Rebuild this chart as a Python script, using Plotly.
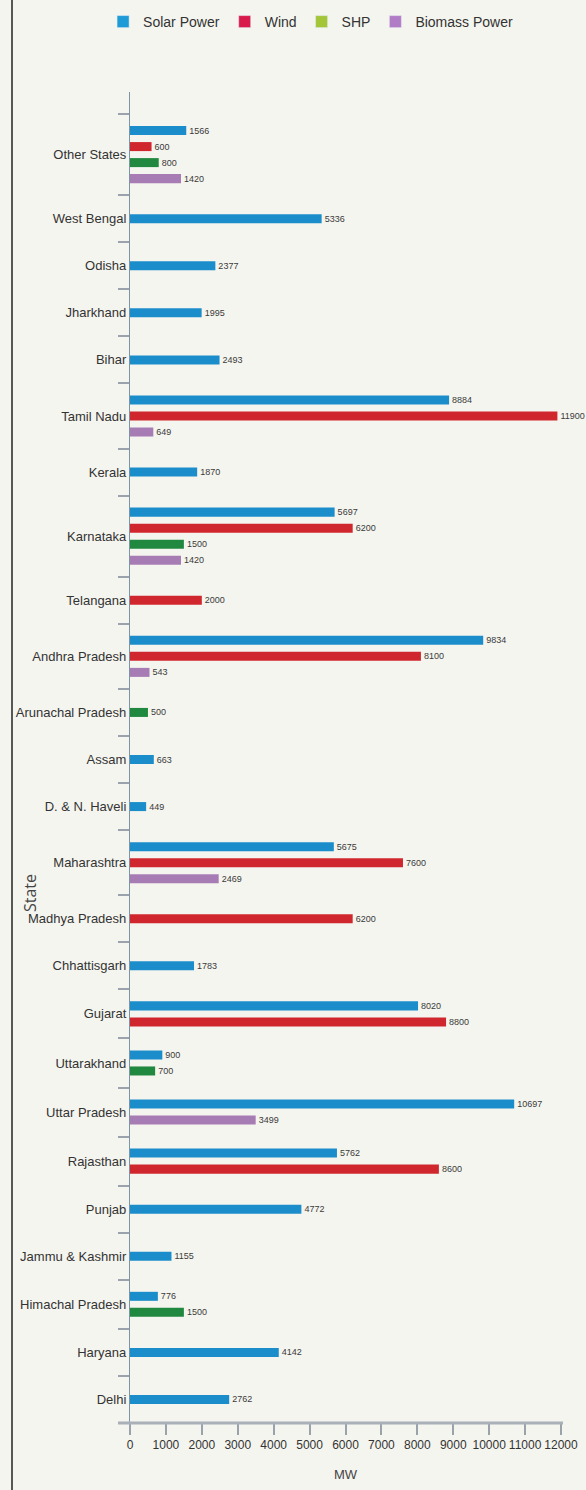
import numpy as np
import plotly.graph_objects as go

# Installed renewable capacity target by state (MW); None = no capacity in that category
states = [
    "Other States", "West Bengal", "Odisha", "Jharkhand", "Bihar", "Tamil Nadu",
    "Kerala", "Karnataka", "Telangana", "Andhra Pradesh", "Arunachal Pradesh",
    "Assam", "D. & N. Haveli", "Maharashtra", "Madhya Pradesh", "Chhattisgarh",
    "Gujarat", "Uttarakhand", "Uttar Pradesh", "Rajasthan", "Punjab",
    "Jammu & Kashmir", "Himachal Pradesh", "Haryana", "Delhi",
]
solar = [1566, 5336, 2377, 1995, 2493, 8884, 1870, 5697, None, 9834, None, 663, 449,
         5675, None, 1783, 8020, 900, 10697, 5762, 4772, 1155, 776, 4142, 2762]
wind = [600, None, None, None, None, 11900, None, 6200, 2000, 8100, None, None, None,
        7600, 6200, None, 8800, None, None, 8600, None, None, None, None, None]
shp = [800, None, None, None, None, None, None, 1500, None, None, 500, None, None,
       None, None, None, None, 700, None, None, None, None, 1500, None, None]
biomass = [1420, None, None, None, None, 649, None, 1420, None, 543, None, None, None,
           2469, None, None, None, None, 3499, None, None, None, None, None, None]

series_names = ["Solar Power", "Wind", "SHP", "Biomass Power"]
bar_colors = ["#1b8dcb", "#d0262e", "#21893f", "#a77cb5"]
legend_colors = ["#1e9ad6", "#d81b4a", "#a3c639", "#b07cc6"]
series = [solar, wind, shp, biomass]

FONT = "Liberation Sans, Arial, sans-serif"
BG = "#f5f5ef"

# Each state gets a band sized by how many categories it actually has,
# with the bars packed at a fixed spacing around the band centre.
SLOT = 16
PAD = 17
MIN_BAND = 47
BAR_W = 9
counts = [sum(s[i] is not None for s in series) for i in range(len(states))]
band_h = [max(MIN_BAND, SLOT * n + PAD) for n in counts]
edges = np.concatenate([[0], np.cumsum(band_h)])
centers = (edges[:-1] + edges[1:]) / 2

ypos = [[None] * len(states) for _ in series]
for i in range(len(states)):
    present = [k for k, s in enumerate(series) if s[i] is not None]
    n = len(present)
    for j, k in enumerate(present):
        ypos[k][i] = centers[i] + (j - (n - 1) / 2) * SLOT

W, H = 586, 1490
ML, MR, MT, MB = 130, 25, 92, 67
PW, PH = W - ML - MR, H - MT - MB


def px_x(p):
    return (p - ML) / PW


def px_y(p):
    return (H - MB - p) / PH


fig = go.Figure()
for k, name in enumerate(series_names):
    xs = [v for v in series[k] if v is not None]
    ys = [y for v, y in zip(series[k], ypos[k]) if v is not None]
    fig.add_trace(go.Bar(
        x=xs, y=ys, orientation="h", width=BAR_W, name=name,
        marker=dict(color=bar_colors[k], line=dict(width=0)),
        text=[str(v) for v in xs], textposition="outside",
        textfont=dict(family=FONT, size=9, color="#3a3a3a"),
        constraintext="none", cliponaxis=False, showlegend=False,
    ))
    fig.add_trace(go.Bar(
        x=[None], y=[None], orientation="h", name=name,
        marker=dict(color=legend_colors[k]), showlegend=True,
    ))

shapes = [
    # bottom axis rule, running slightly past zero on the left
    dict(type="line", xref="paper", yref="paper", x0=px_x(118), x1=px_x(563),
         y0=0, y1=0, line=dict(color="#a9b0b8", width=3)),
    # left frame line
    dict(type="line", xref="paper", yref="paper", x0=px_x(12), x1=px_x(12),
         y0=px_y(0), y1=px_y(H), line=dict(color="#222222", width=1.5)),
]

fig.update_layout(
    width=W, height=H,
    margin=dict(l=ML, r=MR, t=MT, b=MB, autoexpand=False),
    paper_bgcolor=BG, plot_bgcolor=BG,
    barmode="overlay",
    font=dict(family=FONT, color="#333333"),
    showlegend=True,
    legend=dict(
        orientation="h", xref="container", yref="container",
        x=0.53, xanchor="center", y=1 - 22 / H, yanchor="middle",
        font=dict(family=FONT, size=14, color="#333333"),
        bgcolor="rgba(0,0,0,0)", itemclick=False, traceorder="normal",
        itemwidth=30,
    ),
    xaxis=dict(
        range=[0, 12000], dtick=1000, tick0=0, tickformat="d",
        showgrid=False, zeroline=False, showline=False, automargin=False,
        ticks="outside", ticklen=11, tickwidth=1.5, tickcolor="#9aa3ab",
        tickfont=dict(family=FONT, size=12, color="#333333"),
        title=dict(text="MW", font=dict(family=FONT, size=13, color="#444444"), standoff=18),
    ),
    yaxis=dict(
        range=[edges[-1], -22], automargin=False,
        tickvals=centers.tolist(), ticktext=states, ticks="",
        tickfont=dict(family=FONT, size=13, color="#333333"),
        showgrid=False, zeroline=False,
        showline=True, linecolor="#7d93a8", linewidth=1.2,
        minor=dict(tickvals=edges.tolist(), ticks="outside", ticklen=11,
                   tickwidth=2, tickcolor="#9aa3ab", showgrid=False),
    ),
    shapes=shapes,
    annotations=[dict(
        text="State", textangle=-90, xref="paper", yref="paper",
        x=px_x(30), y=px_y(893), xanchor="center", yanchor="middle",
        showarrow=False,
        font=dict(family="Open Sans, sans-serif", size=16, color="#444444"),
    )],
)

fig.write_html("out.html")
